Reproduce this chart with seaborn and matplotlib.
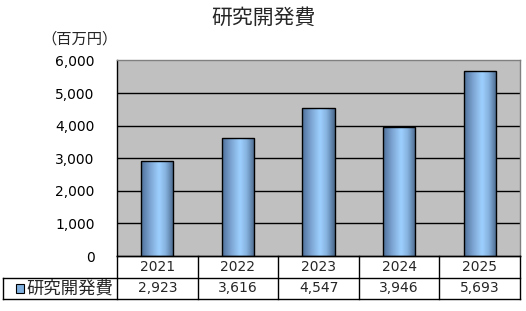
import numpy as np
import pandas as pd
import matplotlib
matplotlib.use("Agg")
import matplotlib.pyplot as plt
from matplotlib.colors import LinearSegmentedColormap
from matplotlib.patches import Rectangle
import seaborn as sns

years = ["2021", "2022", "2023", "2024", "2025"]
values = [2923, 3616, 4547, 3946, 5693]
series_name = "研究開発費"
title = "研究開発費"
unit_label = "（百万円）"
yticks = [0, 1000, 2000, 3000, 4000, 5000, 6000]

sns.set_theme(style="white")
plt.rcParams['font.family'] = ['Noto Sans CJK JP', 'DejaVu Sans']
NUM = ['DejaVu Sans']

W, H = 526, 311
fig = plt.figure(figsize=(W / 100, H / 100), dpi=100)
fig.patch.set_facecolor("white")

L, R, T, B = 117, 520, 60.5, 256
ax = fig.add_axes([L / W, 1 - B / H, (R - L) / W, (B - T) / H])
ax.set_facecolor("#C0C0C0")

df = pd.DataFrame({"year": years, "value": values})
sns.barplot(data=df, x="year", y="value", ax=ax, color="#99CCFF",
            width=0.4, edgecolor="black", linewidth=1.0, zorder=3)

ax.set_ylim(0, 6000)
ax.set_xlim(-0.5, len(years) - 0.5)
ax.set_yticks(yticks)
ax.set_yticklabels([f"{v:,}" for v in yticks], fontsize=10, family=NUM)
ax.tick_params(axis="y", length=0, pad=16, labelcolor="black")
ax.set_xticks([])
ax.set_xlabel("")
ax.set_ylabel("")
for v in yticks[1:-1]:
    ax.axhline(v, color="black", lw=1.0, zorder=1)

for side in ["top", "right"]:
    ax.spines[side].set_color("#808080")
    ax.spines[side].set_linewidth(1.0)
for side in ["left", "bottom"]:
    ax.spines[side].set_color("black")
    ax.spines[side].set_linewidth(1.0)

cmap = LinearSegmentedColormap.from_list(
    "g", [(0.0, "#4F7099"), (0.3, "#7FA8D6"), (0.55, "#9DD0FF"), (0.75, "#86B2DF"), (1.0, "#48668A")])
grad = np.linspace(0, 1, 256).reshape(1, -1)
for p in list(ax.patches):
    x0, y0 = p.get_x(), p.get_y()
    w, h = p.get_width(), p.get_height()
    im = ax.imshow(grad, cmap=cmap, aspect="auto", extent=[x0, x0 + w, y0, y0 + h],
                   zorder=3.5, interpolation="bicubic")
    im.set_clip_path(p)
    p.set_facecolor("none")
    p.set_zorder(4)
ax.set_xlim(-0.5, len(years) - 0.5)
ax.set_ylim(0, 6000)

fig.text(264 / W, 1 - 18 / H, title, ha="center", va="center", fontsize=15)
fig.text(79 / W, 1 - 39 / H, unit_label, ha="center", va="center", fontsize=11)

# data table
unit = (R - L) / len(years)
TL = 3
tb_top, tb_bot = 256, 299
tax = fig.add_axes([TL / W, 1 - tb_bot / H, (R - TL) / W, (tb_bot - tb_top) / H])
xl = -0.5 - (L - TL) / unit
tax.set_xlim(xl, len(years) - 0.5)
tax.set_ylim(0, 2)
tax.axis("off")
lk = dict(color="black", lw=1.0, solid_capstyle="projecting", clip_on=False)
tax.plot([-0.5, len(years) - 0.5], [2, 2], **lk)
tax.plot([xl, len(years) - 0.5], [1, 1], **lk)
tax.plot([xl, len(years) - 0.5], [0, 0], **lk)
tax.plot([xl, xl], [0, 1], **lk)
for i in range(len(years) + 1):
    tax.plot([i - 0.5, i - 0.5], [0, 2], **lk)
for i, (yr, v) in enumerate(zip(years, values)):
    tax.text(i, 1.5, yr, ha="center", va="center", fontsize=10, family=NUM)
    tax.text(i, 0.5, f"{v:,}", ha="center", va="center", fontsize=10, family=NUM)
tax.add_patch(Rectangle((xl + 13 / unit, 0.5 - 0.2), 8 / unit, 0.4,
                        facecolor="#7FB0E0", edgecolor="black", lw=0.8))
tax.text(xl + 23 / unit, 0.48, series_name, ha="left", va="center", fontsize=12.5)

fig.savefig("out.png", dpi=100, facecolor="white")
